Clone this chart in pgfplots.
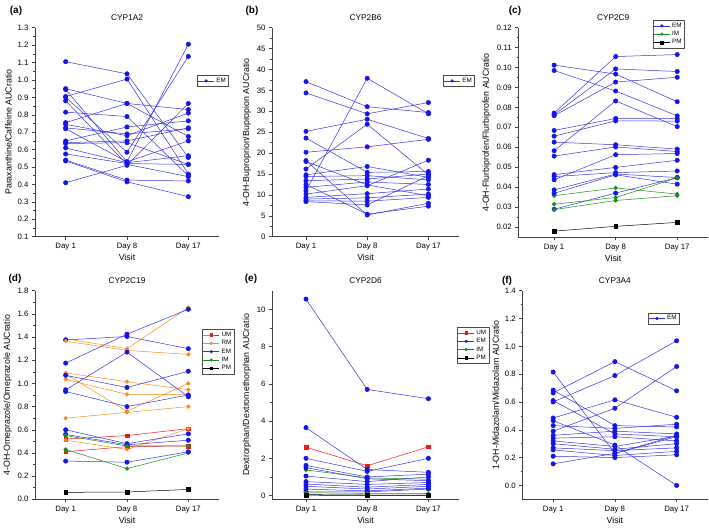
\documentclass[border=0pt]{standalone}
\usepackage{fontspec}
\setmainfont{Liberation Sans}
\usepackage{pgfplots}
\pgfplotsset{compat=1.18}
\definecolor{emc}{RGB}{20,20,235}
\definecolor{emline}{RGB}{50,50,225}
\definecolor{umc}{RGB}{235,25,25}
\definecolor{rmc}{RGB}{250,140,30}
\definecolor{imc}{RGB}{25,140,25}
\pgfplotsset{
  panel/.style={scale only axis, anchor=south west,
    axis x line*=bottom, axis y line*=left, tick align=outside,
    axis line style={line width=0.6pt, black!75},
    major tick length=3pt, minor tick length=1.6pt,
    every tick/.style={black!75, line width=0.5pt},
    xtick={1,2,3}, xticklabels={Day 1,Day 8,Day 17}, xmax=3.5,
    xlabel={Visit}, minor y tick num=1,
    /pgf/number format/assume math mode=true,
    tick label style={font=\fontsize{7.8}{8}\selectfont},
    label style={font=\fontsize{8.8}{9}\selectfont},
    xlabel style={yshift=3pt},
    ylabel style={yshift=-1pt},
    title style={font=\fontsize{8.3}{9}\selectfont, yshift=-2pt},
    legend style={font=\fontsize{6.3}{6.5}\selectfont, draw=black!70, line width=0.4pt,
      inner sep=0.8pt, row sep=-1.5pt, legend cell align=left, anchor=north west},
    legend image code/.code={\draw[mark repeat=2,mark phase=2,#1,mark size=1.3pt] plot coordinates {(0pt,0pt) (8pt,0pt) (16pt,0pt)};},
  },
  em/.style={emline, line width=0.5pt, mark=*, mark size=2.2pt, mark options={emc, fill=emc}},
  um/.style={umc, line width=0.5pt, mark=square*, mark size=1.8pt, mark options={fill=umc}},
  rm/.style={rmc, line width=0.5pt, mark=*, mark size=1.9pt, mark options={fill=rmc}},
  im/.style={imc, line width=0.5pt, mark=*, mark size=1.9pt, mark options={fill=imc}},
  pm/.style={black, line width=0.5pt, mark=square*, mark size=1.8pt, mark options={fill=black}},
  f/.style={forget plot},
}
\begin{document}
\begin{tikzpicture}
\path[use as bounding box] (0pt,0pt) rectangle (709pt,-530pt);
% panel letters
\node[font=\bfseries\fontsize{10}{12}\selectfont] at (16pt,-11pt) {(a)};
\node[font=\bfseries\fontsize{10}{12}\selectfont] at (252pt,-11pt) {(b)};
\node[font=\bfseries\fontsize{10}{12}\selectfont] at (515pt,-11pt) {(c)};
\node[font=\bfseries\fontsize{10}{12}\selectfont] at (15pt,-279pt) {(d)};
\node[font=\bfseries\fontsize{10}{12}\selectfont] at (251pt,-279pt) {(e)};
\node[font=\bfseries\fontsize{10}{12}\selectfont] at (507pt,-281pt) {(f)};

% (a) CYP1A2
\begin{axis}[panel, at={(35pt,-236.7pt)}, width=184pt, height=209pt,
  xmin=0.5, ymin=0.1, ymax=1.3, ytick={0.1,0.2,...,1.3},
  yticklabel style={/pgf/number format/.cd, fixed, fixed zerofill, precision=1},
  ylabel={Paraxanthine/Caffeine AUCratio}, title={CYP1A2},
  legend style={at={(0.88,0.774)}}]
\addplot[em] coordinates {(1,1.105)(2,1.035)(3,0.555)};
\addlegendentry{EM}
\addplot[em,f] coordinates {(1,0.95)(2,0.865)(3,0.83)};
\addplot[em,f] coordinates {(1,0.905)(2,1.005)(3,0.46)};
\addplot[em,f] coordinates {(1,0.945)(2,0.53)(3,1.205)};
\addplot[em,f] coordinates {(1,0.90)(2,0.585)(3,1.135)};
\addplot[em,f] coordinates {(1,0.88)(2,0.515)(3,0.445)};
\addplot[em,f] coordinates {(1,0.815)(2,0.79)(3,0.45)};
\addplot[em,f] coordinates {(1,0.755)(2,0.865)(3,0.675)};
\addplot[em,f] coordinates {(1,0.745)(2,0.68)(3,0.81)};
\addplot[em,f] coordinates {(1,0.725)(2,0.69)(3,0.72)};
\addplot[em,f] coordinates {(1,0.72)(2,0.53)(3,0.65)};
\addplot[em,f] coordinates {(1,0.65)(2,0.73)(3,0.765)};
\addplot[em,f] coordinates {(1,0.64)(2,0.65)(3,0.725)};
\addplot[em,f] coordinates {(1,0.61)(2,0.525)(3,0.565)};
\addplot[em,f] coordinates {(1,0.575)(2,0.52)(3,0.515)};
\addplot[em,f] coordinates {(1,0.54)(2,0.425)(3,0.42)};
\addplot[em,f] coordinates {(1,0.535)(2,0.415)(3,0.33)};
\addplot[em,f] coordinates {(1,0.41)(2,0.51)(3,0.865)};
\addplot[em,f] coordinates {(1,0.635)(2,0.64)(3,0.515)};
\end{axis}

% (b) CYP2B6
\begin{axis}[panel, at={(272pt,-236.7pt)}, width=187pt, height=209pt,
  xmin=0.445, ymin=0, ymax=50, ytick={0,5,...,50},
  ylabel={4-OH-Buproprion/Bupropion AUCratio}, title={CYP2B6},
  legend style={at={(0.914,0.774)}}]
\addplot[em] coordinates {(1,37.1)(2,31.1)(3,29.7)};
\addlegendentry{EM}
\addplot[em,f] coordinates {(1,34.4)(2,29.4)(3,32.1)};
\addplot[em,f] coordinates {(1,25.2)(2,28.1)(3,23.5)};
\addplot[em,f] coordinates {(1,20.2)(2,21.5)(3,23.3)};
\addplot[em,f] coordinates {(1,11.0)(2,37.9)(3,29.4)};
\addplot[em,f] coordinates {(1,16.2)(2,26.9)(3,14.8)};
\addplot[em,f] coordinates {(1,18.2)(2,5.2)(3,8.0)};
\addplot[em,f] coordinates {(1,12.5)(2,5.4)(3,7.3)};
\addplot[em,f] coordinates {(1,23.6)(2,15.4)(3,15.6)};
\addplot[em,f] coordinates {(1,18.0)(2,12.4)(3,9.8)};
\addplot[em,f] coordinates {(1,14.8)(2,16.8)(3,14.2)};
\addplot[em,f] coordinates {(1,14.4)(2,14.6)(3,13.6)};
\addplot[em,f] coordinates {(1,13.4)(2,13.8)(3,15.0)};
\addplot[em,f] coordinates {(1,11.8)(2,13.1)(3,12.5)};
\addplot[em,f] coordinates {(1,10.2)(2,12.2)(3,18.3)};
\addplot[em,f] coordinates {(1,9.4)(2,10.3)(3,11.4)};
\addplot[em,f] coordinates {(1,9.0)(2,9.3)(3,10.2)};
\addplot[em,f] coordinates {(1,8.6)(2,8.5)(3,9.4)};
\addplot[em,f] coordinates {(1,8.4)(2,7.6)(3,14.6)};
\end{axis}

% (c) CYP2C9
\begin{axis}[panel, at={(518.3pt,-237.3pt)}, width=189.7pt, height=209.6pt,
  xmin=0.418, ymin=0.0147, ymax=0.12,
  ytick={0.02,0.03,0.04,0.05,0.06,0.07,0.08,0.09,0.10,0.11,0.12},
  yticklabel style={/pgf/number format/.cd, fixed, fixed zerofill, precision=2},
  ylabel={4-OH-Flurbiprofen/Flurbiprofen AUCratio}, title={CYP2C9},
  legend style={at={(0.708,1.037)}}]
\addplot[em] coordinates {(1,0.1012)(2,0.0967)(3,0.0828)};
\addlegendentry{EM}
\addplot[im] coordinates {(1,0.0356)(2,0.0395)(3,0.0364)};
\addlegendentry{IM}
\addplot[pm] coordinates {(1,0.0178)(2,0.0202)(3,0.0222)};
\addlegendentry{PM}
\addplot[em,f] coordinates {(1,0.0985)(2,0.0882)(3,0.0757)};
\addplot[em,f] coordinates {(1,0.0771)(2,0.1055)(3,0.1065)};
\addplot[em,f] coordinates {(1,0.0763)(2,0.0993)(3,0.0980)};
\addplot[em,f] coordinates {(1,0.0758)(2,0.0927)(3,0.0951)};
\addplot[em,f] coordinates {(1,0.0582)(2,0.0832)(3,0.0703)};
\addplot[em,f] coordinates {(1,0.0684)(2,0.0744)(3,0.0743)};
\addplot[em,f] coordinates {(1,0.0655)(2,0.0732)(3,0.0731)};
\addplot[em,f] coordinates {(1,0.0625)(2,0.0612)(3,0.0590)};
\addplot[em,f] coordinates {(1,0.0555)(2,0.0601)(3,0.0578)};
\addplot[em,f] coordinates {(1,0.0436)(2,0.0562)(3,0.0568)};
\addplot[em,f] coordinates {(1,0.0462)(2,0.0498)(3,0.0534)};
\addplot[em,f] coordinates {(1,0.0452)(2,0.0472)(3,0.0480)};
\addplot[em,f] coordinates {(1,0.0385)(2,0.0465)(3,0.0447)};
\addplot[em,f] coordinates {(1,0.0368)(2,0.0461)(3,0.0414)};
\addplot[em,f] coordinates {(1,0.0288)(2,0.0369)(3,0.0447)};
\addplot[im,f] coordinates {(1,0.0313)(2,0.0347)(3,0.0446)};
\addplot[im,f] coordinates {(1,0.0286)(2,0.0332)(3,0.0356)};
\end{axis}

% (d) CYP2C19
\begin{axis}[panel, at={(35pt,-499.3pt)}, width=184pt, height=208.6pt,
  xmin=0.5, ymin=0, ymax=1.8, ytick={0,0.2,...,1.8},
  yticklabel style={/pgf/number format/.cd, fixed, fixed zerofill, precision=1},
  ylabel={4-OH-Omeprazole/Omeprazole AUCratio}, title={CYP2C19},
  legend style={at={(0.908,0.816)}}]
\addplot[um] coordinates {(1,0.41)(2,0.455)(3,0.46)};
\addlegendentry{UM}
\addplot[rm] coordinates {(1,1.385)(2,1.30)(3,1.655)};
\addlegendentry{RM}
\addplot[em] coordinates {(1,1.375)(2,1.405)(3,1.30)};
\addlegendentry{EM}
\addplot[im] coordinates {(1,0.43)(2,0.265)(3,0.40)};
\addlegendentry{IM}
\addplot[pm] coordinates {(1,0.06)(2,0.063)(3,0.085)};
\addlegendentry{PM}
\addplot[um,f] coordinates {(1,0.52)(2,0.55)(3,0.61)};
\addplot[rm,f] coordinates {(1,1.365)(2,1.285)(3,1.25)};
\addplot[rm,f] coordinates {(1,1.09)(2,1.015)(3,0.945)};
\addplot[rm,f] coordinates {(1,1.035)(2,0.905)(3,0.905)};
\addplot[rm,f] coordinates {(1,1.08)(2,0.76)(3,1.0)};
\addplot[rm,f] coordinates {(1,0.70)(2,0.75)(3,0.80)};
\addplot[rm,f] coordinates {(1,0.51)(2,0.43)(3,0.61)};
\addplot[em,f] coordinates {(1,1.175)(2,1.425)(3,1.64)};
\addplot[em,f] coordinates {(1,0.945)(2,1.27)(3,0.885)};
\addplot[em,f] coordinates {(1,1.07)(2,0.965)(3,1.105)};
\addplot[em,f] coordinates {(1,0.93)(2,0.80)(3,0.90)};
\addplot[em,f] coordinates {(1,0.60)(2,0.48)(3,0.565)};
\addplot[em,f] coordinates {(1,0.56)(2,0.47)(3,0.51)};
\addplot[em,f] coordinates {(1,0.33)(2,0.32)(3,0.41)};
\addplot[im,f] coordinates {(1,0.55)(2,0.46)(3,0.46)};
\end{axis}

% (e) CYP2D6
\begin{axis}[panel, at={(272pt,-499.3pt)}, width=187pt, height=208.6pt,
  xmin=0.445, ymin=-0.2, ymax=11, ytick={0,2,...,10},
  ylabel={Dextrorphan/Dextromethorphan AUCratio}, title={CYP2D6},
  legend style={at={(0.989,0.826)}}]
\addplot[um] coordinates {(1,2.6)(2,1.6)(3,2.62)};
\addlegendentry{UM}
\addplot[em] coordinates {(1,10.55)(2,5.7)(3,5.2)};
\addlegendentry{EM}
\addplot[im] coordinates {(1,1.38)(2,0.95)(3,0.88)};
\addlegendentry{IM}
\addplot[pm] coordinates {(1,0.05)(2,0.03)(3,0.02)};
\addlegendentry{PM}
\addplot[em,f] coordinates {(1,3.65)(2,1.4)(3,1.25)};
\addplot[em,f] coordinates {(1,2.0)(2,1.3)(3,2.0)};
\addplot[em,f] coordinates {(1,1.62)(2,1.0)(3,1.15)};
\addplot[em,f] coordinates {(1,1.5)(2,0.9)(3,0.8)};
\addplot[em,f] coordinates {(1,1.05)(2,0.75)(3,1.0)};
\addplot[em,f] coordinates {(1,0.75)(2,0.6)(3,0.7)};
\addplot[em,f] coordinates {(1,0.62)(2,0.45)(3,0.6)};
\addplot[em,f] coordinates {(1,0.5)(2,0.35)(3,0.5)};
\addplot[em,f] coordinates {(1,0.35)(2,0.25)(3,0.4)};
\addplot[em,f] coordinates {(1,0.2)(2,0.2)(3,0.35)};
\addplot[im,f] coordinates {(1,0.15)(2,0.12)(3,0.1)};
\addplot[pm,f] coordinates {(1,0.02)(2,0.01)(3,0.01)};
\end{axis}

% (f) CYP3A4
\begin{axis}[panel, at={(522.3pt,-499.3pt)}, width=185.2pt, height=208.6pt,
  xmin=0.5, ymin=-0.1, ymax=1.4, ytick={0,0.2,...,1.4},
  yticklabel style={/pgf/number format/.cd, fixed, fixed zerofill, precision=1},
  ylabel={1-OH-Midazolam/Midazolam AUCratio}, title={CYP3A4},
  legend style={at={(0.677,0.895)}}]
\addplot[em] coordinates {(1,0.815)(2,0.23)(3,0.36)};
\addlegendentry{EM}
\addplot[em,f] coordinates {(1,0.685)(2,0.43)(3,0.42)};
\addplot[em,f] coordinates {(1,0.665)(2,0.89)(3,0.68)};
\addplot[em,f] coordinates {(1,0.60)(2,0.79)(3,1.04)};
\addplot[em,f] coordinates {(1,0.61)(2,0.37)(3,0.35)};
\addplot[em,f] coordinates {(1,0.39)(2,0.555)(3,0.855)};
\addplot[em,f] coordinates {(1,0.485)(2,0.615)(3,0.49)};
\addplot[em,f] coordinates {(1,0.465)(2,0.29)(3,0.0)};
\addplot[em,f] coordinates {(1,0.43)(2,0.41)(3,0.44)};
\addplot[em,f] coordinates {(1,0.36)(2,0.39)(3,0.37)};
\addplot[em,f] coordinates {(1,0.34)(2,0.35)(3,0.32)};
\addplot[em,f] coordinates {(1,0.32)(2,0.28)(3,0.355)};
\addplot[em,f] coordinates {(1,0.30)(2,0.26)(3,0.30)};
\addplot[em,f] coordinates {(1,0.27)(2,0.25)(3,0.27)};
\addplot[em,f] coordinates {(1,0.255)(2,0.215)(3,0.245)};
\addplot[em,f] coordinates {(1,0.21)(2,0.20)(3,0.22)};
\addplot[em,f] coordinates {(1,0.155)(2,0.23)(3,0.35)};
\end{axis}
\end{tikzpicture}
\end{document}
